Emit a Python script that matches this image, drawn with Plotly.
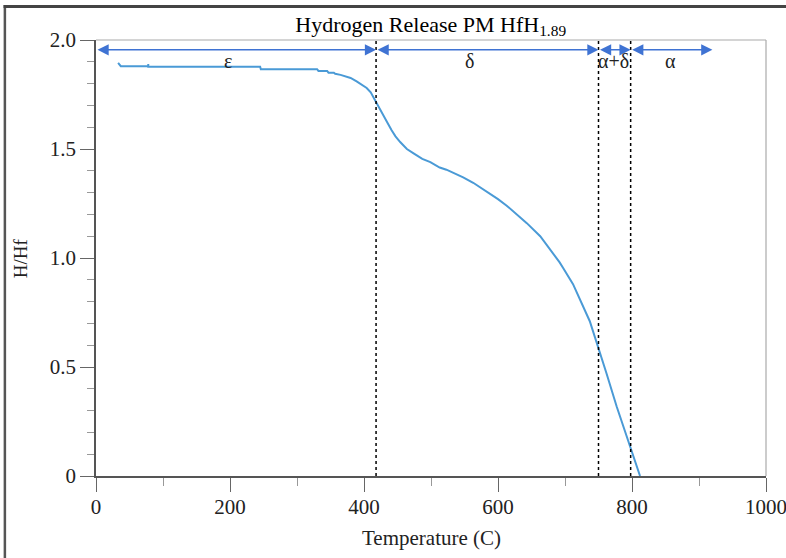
import plotly.graph_objects as go

# ---- data ----
temp_c = [33, 35, 37, 78, 78, 78, 245, 246, 330, 332, 345, 347, 355, 357, 365, 372,
          380, 389, 397, 404, 410, 416, 423, 429, 435, 441, 447, 454, 464, 474, 487,
          499, 513, 523, 548, 563, 573, 600, 613, 643, 663, 673, 692, 697, 712, 737,
          750, 762, 777, 798, 812]
h_hf = [1.895, 1.885, 1.88, 1.88, 1.89, 1.877, 1.877, 1.866, 1.866, 1.858, 1.858, 1.85,
        1.85, 1.845, 1.84, 1.835, 1.826, 1.81, 1.795, 1.78, 1.76, 1.725, 1.69, 1.656,
        1.62, 1.587, 1.558, 1.532, 1.50, 1.48, 1.455, 1.44, 1.415, 1.405, 1.37, 1.345,
        1.325, 1.27, 1.24, 1.16, 1.10, 1.06, 0.98, 0.955, 0.88, 0.71, 0.59, 0.47, 0.32,
        0.13, 0.0]

phase_bounds = [0, 418, 750, 798, 920]
phase_labels = ["ε", "δ", "α+δ", "α"]
phase_label_x = [197, 558, 772, 857]
boundary_lines = [418, 750, 798]
arrow_level = 1.955
label_level = 1.905

x_ticks = [0, 200, 400, 600, 800, 1000]
y_ticks = [0, 0.5, 1.0, 1.5, 2.0]
y_tick_text = ["0", "0.5", "1.0", "1.5", "2.0"]

SERIF = "Liberation Serif, Times New Roman, serif"
ARROW_BLUE = "#3f73d3"
TXT = "#222222"

fig = go.Figure()
fig.add_trace(go.Scatter(x=temp_c, y=h_hf, mode="lines",
                         line=dict(color="#4a9ad6", width=2), showlegend=False))

# dotted phase boundaries
for xb in boundary_lines:
    fig.add_shape(type="line", x0=xb, x1=xb, y0=0, y1=2, xref="x", yref="y",
                  line=dict(color="black", width=1.5, dash="dot"))

# double-headed arrows
for a, b in zip(phase_bounds[:-1], phase_bounds[1:]):
    fig.add_annotation(x=b, y=arrow_level, ax=a, ay=arrow_level,
                       xref="x", yref="y", axref="x", ayref="y",
                       showarrow=True, arrowhead=2, startarrowhead=2,
                       arrowside="end+start", arrowsize=1.4, startarrowsize=1.4,
                       arrowwidth=1.6, arrowcolor=ARROW_BLUE, text="")

for lbl, lx in zip(phase_labels, phase_label_x):
    fig.add_annotation(x=lx, y=label_level, xref="x", yref="y", text=lbl,
                       showarrow=False, font=dict(family=SERIF, size=20, color=TXT))

# light plot frame (top & right)
fig.add_shape(type="line", x0=0, x1=1, y0=1, y1=1, xref="paper", yref="paper",
              line=dict(color="#aaaaaa", width=1.2))
fig.add_shape(type="line", x0=1, x1=1, y0=0, y1=1, xref="paper", yref="paper",
              line=dict(color="#aaaaaa", width=1.2))

# outer image frame (left and top edges)
fig.add_shape(type="line", x0=-0.136, x1=-0.136, y0=-0.2, y1=1.08,
              xref="paper", yref="paper", line=dict(color="#555555", width=2.5))
fig.add_shape(type="line", x0=-0.138, x1=1.04, y0=1.077, y1=1.077,
              xref="paper", yref="paper", line=dict(color="#444444", width=3))

# axis titles
fig.add_annotation(text="Temperature (C)", x=0.5, y=-0.142, xref="paper", yref="paper",
                   showarrow=False, yanchor="middle",
                   font=dict(family=SERIF, size=21, color=TXT))
fig.add_annotation(text="H/Hf", x=-0.113, y=0.5, xref="paper", yref="paper",
                   showarrow=False, textangle=-90, xanchor="center",
                   font=dict(family=SERIF, size=19, color=TXT))

fig.update_layout(
    width=786, height=558,
    margin=dict(l=96, r=20, t=40, b=82, autoexpand=False),
    paper_bgcolor="white", plot_bgcolor="white",
    title=dict(text="Hydrogen Release PM HfH<sub>1.89</sub>", x=0.548, xanchor="center",
               y=1 - 24 / 558, yanchor="middle",
               font=dict(family=SERIF, size=22, color="black")),
    font=dict(family=SERIF, color="black"),
)
fig.update_xaxes(range=[0, 1000], tickvals=x_ticks, ticks="outside", ticklen=14,
                 tickcolor="#666", tickwidth=1.2, showline=True, linecolor="#555",
                 linewidth=1.5, showgrid=False, zeroline=False, automargin=False,
                 ticklabeloverflow="allow", ticklabelstandoff=-3,
                 tickfont=dict(family=SERIF, size=21, color=TXT),
                 minor=dict(dtick=100, ticks="outside", ticklen=8, tickcolor="#999",
                            showgrid=False))
fig.update_yaxes(range=[0, 2], tickvals=y_ticks, ticktext=y_tick_text, ticks="outside",
                 ticklen=14, tickcolor="#666", tickwidth=1.2, showline=True,
                 linecolor="#555", linewidth=1.5, showgrid=False, zeroline=False,
                 automargin=False,
                 tickfont=dict(family=SERIF, size=21, color=TXT),
                 minor=dict(dtick=0.1, ticks="outside", ticklen=7, tickcolor="#999",
                            showgrid=False))

fig.write_html("out.html", config={"displayModeBar": False},
               post_script="document.body.style.margin='0';")
